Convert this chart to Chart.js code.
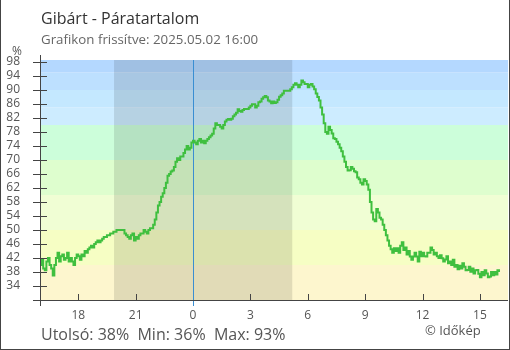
<!DOCTYPE html>
<html>
<head>
<meta charset="utf-8">
<script src="https://cdn.jsdelivr.net/npm/chart.js@4/dist/chart.umd.min.js"></script>
<style>
  html,body{margin:0;padding:0;background:#fff;}
  #wrap{position:relative;width:510px;height:350px;overflow:hidden;box-sizing:border-box;}
  #frame{position:absolute;left:0;top:0;width:510px;height:350px;box-sizing:border-box;border:1px solid #444;border-top:none;pointer-events:none;}
  canvas{position:absolute;left:0;top:0;}
  .t{position:absolute;font-family:"Open Sans",sans-serif;white-space:pre;line-height:1;}
</style>
</head>
<body>
<div id="wrap">
  <canvas id="c" width="510" height="350"></canvas>
  <div class="t" style="left:41px;top:10px;font-size:16px;color:#333;">Gibárt - Páratartalom</div>
  <div class="t" style="left:41px;top:33px;font-size:13.3px;color:#666;">Grafikon frissítve: 2025.05.02 16:00</div>
  <div class="t" style="left:12px;top:45px;font-size:12px;color:#555;">%</div>
  <div class="t" style="left:41px;top:326px;font-size:16px;color:#555;">Utolsó: 38%  Min: 36%  Max: 93%</div>
  <div class="t" style="left:425px;top:324px;font-size:13px;color:#555;">© Időkép</div>
  <div id="frame"></div>
</div>
<script>
// ---- data ----
const startHour = 16;          // 16:00 previous day
const stepMinutes = 5;
const humidity = [
  // 16:00
  40,41.5,39,38.5,41,42,40,39,37,40,42,43.5,
  // 17:00
  41,42.5,43,41.5,42,43.5,41,42,41,40,42,43,
  // 18:00
  42.5,41.5,43,42.5,44,43.5,44.5,45,45.5,45,46,46.5,
  // 19:00
  47,46.5,47,47.5,48,48,48.5,48.5,49,49,49.5,49.5,
  // 20:00
  50,50,50,50,50,49,48.5,48,47.5,48.5,49,47,
  // 21:00
  48,47.5,48.5,49,49,50,49.5,49,50,50.5,50.5,51.5,
  // 22:00
  53,55,57,58,59.5,60.5,62,63.5,65.5,66,66.7,67,
  // 23:00
  68,69.5,70.5,70,71,71,72,73,74,73,73.5,75,
  // 00:00
  75.5,75,74.5,75.5,76,75,75.5,74.8,75.5,76,76.5,77,
  // 01:00
  77.5,79,80.5,80,80,79.5,79,80,81,81.5,81.7,81.5,
  // 02:00
  81.8,82.5,83,83.5,84.5,84,83.8,84.3,84.6,84.6,84.6,85,
  // 03:00
  85.5,85.9,85.9,85,85.5,86.5,86.7,87.5,87.9,88.3,87.9,87,
  // 04:00
  86.7,86.2,86.7,86.3,86.5,87.2,88.1,88.5,89,89.8,89.8,89.8,
  // 05:00
  89.8,90.2,90.8,91.5,91.9,91.5,90.8,91.5,92.7,92.2,91.7,91.7,
  // 06:00
  90.8,91.5,91.7,91,90.2,89,88,87,85,83,80.5,78,
  // 07:00
  77.5,79.5,78.6,77.6,76.2,76,75.2,74.5,73.5,72.5,71,69.5,
  // 08:00
  68,67,67.1,68,67.5,66.8,66.5,65,64.5,63.5,63,64.5,
  // 09:00
  64,63,61.5,58,55,53,52.5,56,55,53.5,53,51.5,
  // 10:00
  50,48.5,47,45.5,44.5,43.5,44.8,44,44.8,43.5,45.5,46.5,
  // 11:00
  44.3,45,43,44,42.4,41.5,42.4,43.5,42.4,41,43.8,42.5,
  // 12:00
  43.5,42.5,42.4,43.5,43.5,45,44.3,43,43.5,42.5,42,42.8,
  // 13:00
  41.9,41,41.6,42.5,40.5,41,40,41.5,39.5,40,38.8,39.8,
  // 14:00
  39,40.5,39.5,38.5,38.6,39.5,38.1,39,37.6,38.5,38.6,37.5,
  // 15:00
  36.5,38,37.1,38.5,37.6,36.5,36.7,38,37.1,38,37.3,38.5,
  // 16:00
  38
];
const xTickHours = [18,21,24,27,30,33,36,39];
const yTickValues = [34,38,42,46,50,54,58,62,66,70,74,78,82,86,90,94,98];
const bandEdges  = [30,40,50,60,70,80,85,90,95,100];
const bandColors = ['#fdf6ce','#f6fec4','#f0fed4','#defece','#ccfeda','#cdecff','#c4e8ff','#bde0ff','#b4d8ff'];
const night = [19.87, 29.19];  // sunset, sunrise (hours)
const midnight = 24;

const points = humidity.map((v,i)=>({x: startHour + i*stepMinutes/60, y: v}));

const deco = {
  id:'deco',
  beforeDatasetsDraw(chart){
    const {ctx, chartArea:a, scales:{x,y}} = chart;
    ctx.save();
    for(let i=0;i<bandColors.length;i++){
      const top = Math.max(a.top, y.getPixelForValue(bandEdges[i+1]));
      const bot = Math.min(a.bottom, y.getPixelForValue(bandEdges[i]));
      if(bot<=top) continue;
      ctx.fillStyle = bandColors[i];
      ctx.fillRect(a.left, top, a.right-a.left, bot-top);
    }
    const n0 = x.getPixelForValue(night[0]), n1 = x.getPixelForValue(night[1]);
    ctx.fillStyle = 'rgba(0,0,0,0.11)';
    ctx.fillRect(n0, a.top, n1-n0, a.bottom-a.top);
    const mx = Math.round(x.getPixelForValue(midnight))+0.5;
    ctx.strokeStyle = '#3a8ed2'; ctx.lineWidth = 1;
    ctx.beginPath(); ctx.moveTo(mx, a.top); ctx.lineTo(mx, a.bottom+6); ctx.stroke();
    ctx.restore();
  },
  afterDatasetsDraw(chart){
    const {ctx, chartArea:a, scales:{x,y}} = chart;
    ctx.save();
    ctx.strokeStyle = '#444'; ctx.lineWidth = 1;
    ctx.beginPath();
    const ax = Math.round(a.left)+0.5;
    ctx.moveTo(ax, a.top-5); ctx.lineTo(ax, a.bottom+6);
    const by = Math.round(a.bottom)+0.5;
    ctx.moveTo(a.left-7, by); ctx.lineTo(a.right, by);
    for(const v of yTickValues){
      const py = Math.round(y.getPixelForValue(v))+0.5;
      ctx.moveTo(a.left-7, py); ctx.lineTo(a.left+7, py);
    }
    for(const h of xTickHours){
      if(h===midnight) continue;
      const px = Math.round(x.getPixelForValue(h))+0.5;
      ctx.moveTo(px, a.bottom-6); ctx.lineTo(px, a.bottom);
    }
    ctx.stroke();
    ctx.restore();
  }
};

new Chart(document.getElementById('c'), {
  type:'line',
  data:{datasets:[{data:points, borderColor:'#3fbf3f', borderWidth:2, pointRadius:0, stepped:true, fill:false}]},
  options:{
    responsive:false, animation:false, devicePixelRatio:1,
    layout:{padding:{left:0,right:2,top:60,bottom:0}},
    plugins:{legend:{display:false}, tooltip:{enabled:false}, title:{display:false}},
    scales:{
      x:{type:'linear', min:16, max:40.47,
        grid:{display:false, drawTicks:false}, border:{display:false},
        afterBuildTicks(s){ s.ticks = xTickHours.map(v=>({value:v})); },
        afterFit(s){ s.height = 50; },
        ticks:{autoSkip:false, maxRotation:0, padding:8, color:'#555',
          font:{family:'Open Sans', size:12}, callback:v=>String(v%24)}},
      y:{type:'linear', min:30, max:98.57,
        grid:{display:false, drawTicks:false}, border:{display:false},
        afterBuildTicks(s){ s.ticks = yTickValues.map(v=>({value:v})); },
        afterFit(s){ s.width = 40; },
        ticks:{autoSkip:false, padding:20, color:'#555',
          font:{family:'Open Sans', size:12}}}
    }
  },
  plugins:[deco]
});
</script>
</body>
</html>
